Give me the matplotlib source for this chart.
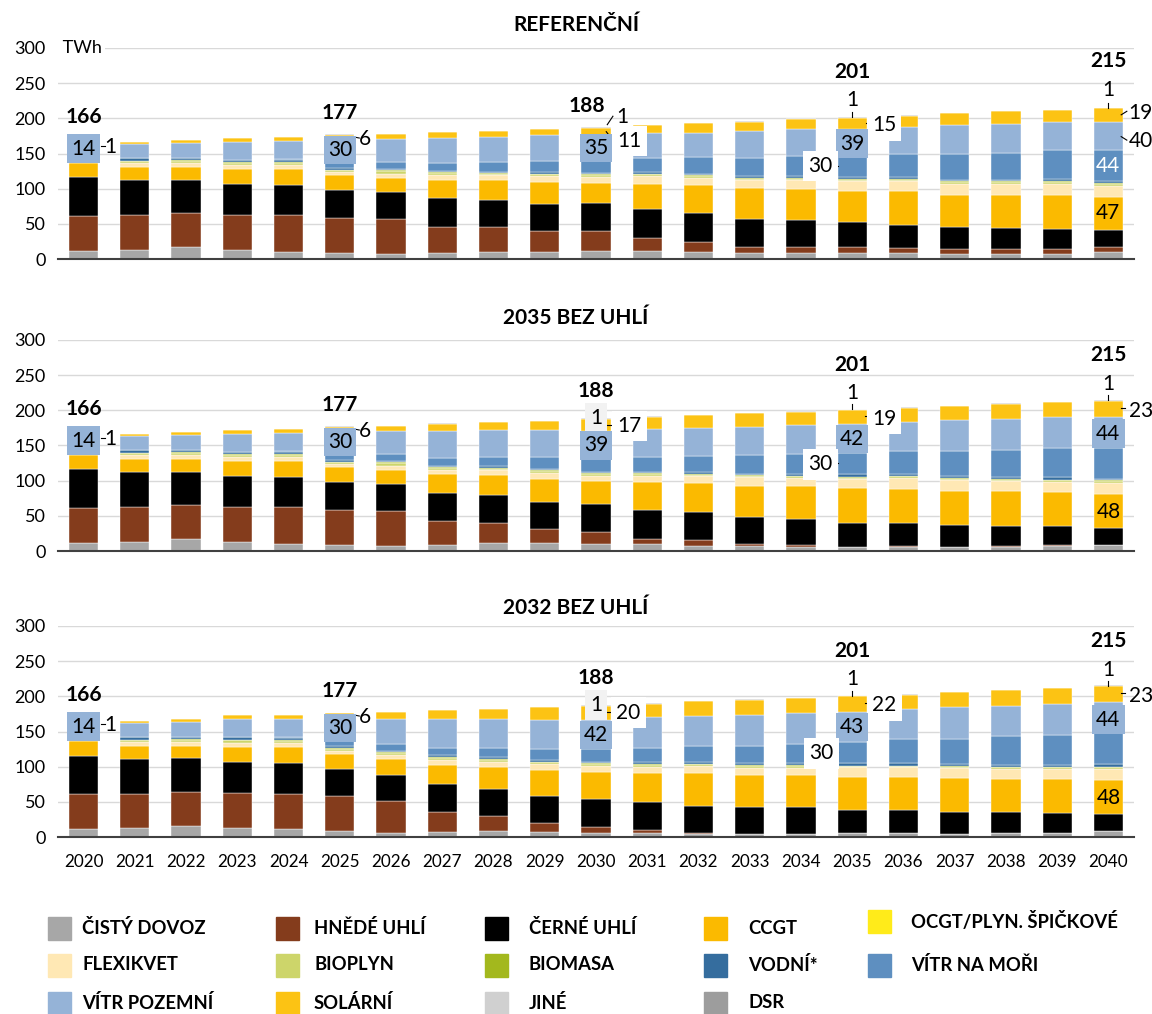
import matplotlib
matplotlib.use('Agg')
import matplotlib.pyplot as plt
import matplotlib.transforms as mtransforms
from matplotlib.patches import Rectangle
import numpy as np

plt.rcParams['font.family'] = ['Lato', 'DejaVu Sans']

roky = [str(r) for r in range(2020, 2041)]

# --- REFERENČNÍ ---
ref_dovoz = [12, 13.3, 16.7, 12.9, 10.5, 8.6, 7, 8, 10.5, 10.5, 11.4, 11.4, 9.5, 8.6, 8, 8, 8, 6.7, 6.7, 6.7, 9.5]
ref_hnede = [48.5, 48.7, 48.1, 50, 51.4, 50, 50, 38, 34.3, 30, 28.6, 19.1, 14.3, 9, 9.6, 8.7, 7.7, 7.1, 7.6, 7.6, 7.2]
ref_cerne = [56.2, 51, 48.1, 43.8, 42.9, 39, 38, 40.7, 39.5, 37.1, 39.5, 40.5, 41.4, 39.1, 38.1, 35.3, 32.9, 31, 29.5, 28.6, 24.7]
ref_ccgt = [19.3, 18, 18.1, 20.9, 22.8, 21.4, 20, 26.3, 27.7, 31.9, 28.5, 35.7, 39.6, 44.3, 44.3, 44.5, 47.4, 46.6, 47.6, 48.5, 47]
ref_flexi = [6.5, 5, 5.7, 5.7, 6.2, 4.8, 6, 6, 7, 8.1, 8.7, 10.9, 10.9, 11, 12, 14.5, 14.5, 15.6, 15.3, 15.6, 14.9]
ref_bioplyn = [3, 3, 2.8, 3.3, 3.2, 2.3, 4, 3, 2.4, 2.8, 2.8, 2.8, 2.3, 2, 2, 2, 2.3, 2.5, 2.8, 3, 3.7]
ref_biomasa = [1.5, 1, 1, 1, 1, 1, 1, 1, 1, 1, 1, 1, 1, 1, 1, 1, 1, 1, 1, 1, 1]
ref_vodni = [3, 3, 2.8, 2.9, 2.5, 2.9, 2, 2, 1.9, 2.9, 2.4, 1.9, 2.4, 2.6, 2.6, 2.5, 2.2, 2.4, 2.4, 2.8, 2.5]
ref_more = [0.5, 0.8, 0.8, 0.8, 1, 11, 10, 12, 14.3, 15.2, 17.6, 20, 23.6, 25.7, 28.4, 30, 32.6, 35.7, 38.1, 41, 44]
ref_pozemni = [14, 20.2, 21.5, 25.4, 26.5, 30, 32.5, 35, 34.7, 36.2, 35, 35.3, 34.5, 39.1, 39, 39, 39.4, 41.9, 41.4, 39.5, 40.5]
ref_solar = [1, 2.5, 3.3, 5.2, 5.3, 6, 7.5, 8, 9.1, 9.1, 11, 11.4, 13.4, 12.8, 13.6, 15, 16, 16.5, 17.6, 17.7, 19]

# --- 2035 BEZ UHLÍ ---
s35_dovoz = [12, 13.3, 16.7, 12.9, 10.5, 8.6, 7, 8.6, 11, 11, 10.5, 9.5, 7.6, 7, 6, 5, 5, 5, 6, 7.6, 8.6]
s35_hnede = [48.5, 48.7, 48.1, 50, 51.4, 50, 50, 34.3, 29, 20.9, 16.5, 8.1, 8.1, 3.5, 2.6, 1, 2, 1, 1.6, 1, 0.3]
s35_cerne = [56.2, 51, 48.1, 43.8, 42.9, 39, 38, 39.5, 39.5, 37.1, 39.7, 41, 39.1, 37.5, 37.4, 34.5, 32.5, 31, 28.4, 27.1, 24.4]
s35_ccgt = [19.3, 18, 18.1, 20.9, 22.8, 21.4, 20, 26.6, 28.5, 33.9, 32.3, 39.4, 41.9, 44.9, 46, 49, 48.5, 49, 48.8, 47.6, 48]
s35_flexi = [6.5, 5, 5.7, 5.7, 6.2, 4.8, 6, 6.7, 6.8, 8.1, 8, 9, 9.3, 11.9, 11.8, 13, 16, 14.5, 14.2, 14.7, 15.5]
s35_bioplyn = [3, 3, 2.8, 3.3, 3.2, 2.3, 4, 2.3, 2.2, 3, 3, 3, 2.5, 2.2, 2.2, 2, 2, 2.3, 2.4, 2.4, 2.5]
s35_biomasa = [1.5, 1, 1, 1, 1, 1, 1, 1, 1, 1, 1, 1, 1, 1, 1, 1, 1, 1, 1, 1, 1]
s35_vodni = [3, 3, 2.8, 2.9, 2.5, 2.9, 2, 2.4, 2.5, 2, 1.9, 2, 2.9, 1.5, 2.5, 3.5, 2.5, 2.2, 3.3, 3.4, 2.5]
s35_more = [0.5, 0.8, 0.8, 0.8, 1, 11, 10, 11, 12.8, 16.3, 18.5, 20, 22.4, 26.5, 28.5, 30, 32.5, 36, 38.6, 41.2, 44]
s35_pozemni = [14, 20.2, 21.5, 25.4, 26.5, 30, 32.5, 38.1, 38.1, 38.1, 39, 40.8, 39.5, 40.7, 41, 42, 41.3, 44, 43.7, 44.5, 44]
s35_solar = [1, 2.5, 3.3, 5.2, 5.3, 6, 7.5, 10.5, 11.6, 13.4, 17, 17.2, 19, 19, 19, 19, 20.5, 20, 21.5, 21.5, 23]

# --- 2032 BEZ UHLÍ ---
s32_dovoz = [11, 12.9, 15.2, 12.9, 11, 8.6, 5.7, 7, 8, 7, 5.7, 5.7, 4.8, 4.8, 4.8, 5.7, 5.7, 4.8, 5.7, 6.2, 8]
s32_hnede = [49.5, 47.6, 48.1, 49, 49.5, 49, 44.8, 28.2, 21.5, 13, 8.6, 3.8, 0.3, 0, 0, 0, 0.3, 0, 0.5, 0, 0.5]
s32_cerne = [55.2, 50.9, 49.1, 44.8, 44.3, 39.1, 37.5, 40.5, 39.1, 38, 39.5, 40.5, 39.5, 38.1, 37.6, 33.3, 32, 31.4, 29, 28.1, 24.5]
s32_ccgt = [20.3, 18.1, 17.1, 21.9, 22.8, 21.3, 22.5, 27.2, 31.4, 37.2, 39.1, 41.4, 46.2, 45.7, 45.6, 46, 47.7, 48.1, 47.7, 48.6, 48]
s32_flexi = [6.5, 5, 5.7, 5.7, 6.2, 4.8, 6.2, 6.6, 7, 8.1, 8.1, 8.6, 9.5, 10, 10.6, 14, 13.3, 13.3, 13.8, 13.8, 15]
s32_bioplyn = [3, 3, 2.8, 3.3, 3.2, 2.3, 2.8, 3.3, 3, 2.7, 2.8, 2.8, 2.8, 2.3, 2.3, 1.4, 1.4, 2.4, 2.3, 2.3, 3]
s32_biomasa = [1.5, 1, 1, 1, 1, 1, 1, 1, 1, 1, 1, 1, 1, 1, 1, 1, 1, 1, 1, 1, 1]
s32_vodni = [3, 3, 2.8, 2.9, 2.5, 2.9, 2.4, 2.4, 2.3, 2.5, 2.2, 2.9, 2.2, 2.9, 2.9, 3.4, 3.4, 2.3, 2.9, 2.9, 3.5]
s32_more = [0.5, 0.8, 0.8, 0.8, 1, 11, 9.5, 10.9, 12.9, 15.3, 17.8, 20.3, 22.6, 25.2, 27.6, 30, 34.2, 36.7, 40, 42.8, 44]
s32_pozemni = [14, 20.2, 21.5, 25.4, 26.5, 30, 35.2, 40, 40.9, 41.9, 42, 43, 42.8, 42.9, 43.8, 43, 43, 44.8, 43.8, 43.8, 44]
s32_solar = [1, 2.5, 3.3, 5.2, 5.3, 6, 10, 12.9, 14.9, 17.6, 20, 19.5, 21.5, 22.3, 21.4, 22, 20.4, 21.2, 21.9, 21.9, 23]

jine = [0.5, 0.2, 0.2, 0.2, 0.2, 0.3, 0.3, 0.3, 0.3, 0.3, 1, 0.5, 0.5, 0.5, 0.6, 1, 0.5, 0.5, 0.5, 0.5, 1]

nazvy = ['ČISTÝ DOVOZ', 'HNĚDÉ UHLÍ', 'ČERNÉ UHLÍ', 'CCGT', 'OCGT/PLYN. ŠPIČKOVÉ',
         'FLEXIKVET', 'BIOPLYN', 'BIOMASA', 'VODNÍ*', 'VÍTR NA MOŘI',
         'VÍTR POZEMNÍ', 'SOLÁRNÍ', 'JINÉ', 'DSR']
barvy = {'ČISTÝ DOVOZ': '#A7A7A7', 'HNĚDÉ UHLÍ': '#843C1C', 'ČERNÉ UHLÍ': '#000000',
         'CCGT': '#FBBA00', 'OCGT/PLYN. ŠPIČKOVÉ': '#FFEB1A', 'FLEXIKVET': '#FFE8B4',
         'BIOPLYN': '#CDD56A', 'BIOMASA': '#A3B81D', 'VODNÍ*': '#356D9E',
         'VÍTR NA MOŘI': '#5E8FC0', 'VÍTR POZEMNÍ': '#95B3D7', 'SOLÁRNÍ': '#FCC314',
         'JINÉ': '#D0D0D0', 'DSR': '#9D9D9D'}

poradi = ['ČISTÝ DOVOZ', 'HNĚDÉ UHLÍ', 'ČERNÉ UHLÍ', 'CCGT', 'FLEXIKVET', 'BIOPLYN',
          'BIOMASA', 'VODNÍ*', 'VÍTR NA MOŘI', 'VÍTR POZEMNÍ', 'SOLÁRNÍ', 'JINÉ']

scenare = [
    ('REFERENČNÍ', [ref_dovoz, ref_hnede, ref_cerne, ref_ccgt, ref_flexi, ref_bioplyn,
                    ref_biomasa, ref_vodni, ref_more, ref_pozemni, ref_solar, jine]),
    ('2035 BEZ UHLÍ', [s35_dovoz, s35_hnede, s35_cerne, s35_ccgt, s35_flexi, s35_bioplyn,
                       s35_biomasa, s35_vodni, s35_more, s35_pozemni, s35_solar, jine]),
    ('2032 BEZ UHLÍ', [s32_dovoz, s32_hnede, s32_cerne, s32_ccgt, s32_flexi, s32_bioplyn,
                       s32_biomasa, s32_vodni, s32_more, s32_pozemni, s32_solar, jine]),
]

# popisky: (text, x, y, styl, vodici cara)
spolecne = [('166', 0, 202, 'total', None), ('14', 0, 157, 'lblue', None),
            ('1', 0.53, 159, 'plain', ((0.34, 160), (0.41, 160))),
            ('177', 5, 208, 'total', None), ('30', 5, 155, 'lblue', None),
            ('6', 5.5, 170, 'plain', ((5.31, 173), (5.38, 172)))]
popisky = [
    spolecne + [
        ('188', 9.82, 217, 'total', None), ('35', 10, 158, 'lblue', None),
        ('1', 10.52, 202, 'plain', ((10.22, 191), (10.33, 203))),
        ('11', 10.65, 168, 'white', ((10.2, 181), (10.32, 170))),
        ('201', 15, 266, 'total', None), ('1', 15, 226, 'plain', ((15, 202), (15, 209))),
        ('15', 15.62, 190, 'white', ((15.27, 194), (15.35, 194))),
        ('39', 15, 164, 'lblue', None),
        ('30', 14.38, 132, 'white', ((14.66, 132), (14.72, 132))),
        ('215', 20, 281, 'total', None), ('1', 20, 240, 'plain', ((20, 215), (20, 222))),
        ('19', 20.63, 208, 'plain', ((20.25, 205), (20.36, 210))),
        ('40', 20.63, 168, 'plain', ((20.25, 174), (20.36, 169))),
        ('44', 20, 132, 'inwhite', None), ('47', 20, 65, 'in', None)],
    spolecne + [
        ('188', 10, 227, 'total', None), ('1', 10, 188.5, 'gray', None),
        ('17', 10.65, 178, 'white', ((10.22, 179), (10.32, 179))),
        ('39', 10, 150, 'lblue', None),
        ('201', 15, 265, 'total', None), ('1', 15, 224, 'plain', ((15, 202), (15, 209))),
        ('19', 15.62, 188, 'white', ((15.25, 192), (15.33, 192))),
        ('42', 15, 159, 'lblue', None),
        ('30', 14.38, 123, 'white', ((14.66, 125), (14.72, 125))),
        ('215', 20, 279, 'total', None), ('1', 20, 238, 'plain', ((20, 215), (20, 222))),
        ('23', 20.63, 199, 'plain', ((20.25, 203), (20.33, 203))),
        ('44', 20, 167, 'lblue', None), ('48', 20, 56, 'in', None)],
    spolecne + [
        ('188', 10, 226, 'total', None), ('1', 10, 188, 'gray', None),
        ('20', 10.63, 177, 'white', ((10.22, 178), (10.32, 178))),
        ('42', 10, 145, 'lblue', None),
        ('201', 15, 264, 'total', None), ('1', 15, 224, 'plain', ((15, 201), (15, 208))),
        ('22', 15.63, 187, 'white', ((15.25, 190.5), (15.33, 190.5))),
        ('43', 15, 156, 'lblue', None),
        ('30', 14.4, 119, 'white', ((14.66, 121), (14.72, 121))),
        ('215', 20, 278, 'total', None), ('1', 20, 237, 'plain', ((20, 215), (20, 222))),
        ('23', 20.63, 201, 'plain', ((20.25, 205), (20.33, 205))),
        ('44', 20, 167, 'lblue', None), ('48', 20, 55, 'in', None)],
]

fig = plt.figure(figsize=(11.52, 10.14), dpi=100)
H = 1014.0
W = 1152.0
x0, x1 = 58 / W, 1134 / W
panely = [(48, 259, 25), (340, 551, 318), (626, 837, 608)]

x = np.arange(len(roky))
for i, ((nazev, data), (ytop, ybot, ytit)) in enumerate(zip(scenare, panely)):
    ax = fig.add_axes([x0, 1 - ybot / H, x1 - x0, (ybot - ytop) / H])
    spodek = np.zeros(len(roky))
    for jmeno, hodnoty in zip(poradi, data):
        hodnoty = np.array(hodnoty, dtype=float)
        ax.bar(x, hodnoty, bottom=spodek, width=0.57, color=barvy[jmeno],
               edgecolor='white', linewidth=0.3, zorder=2)
        spodek += hodnoty
    ax.set_xlim(-0.5, len(roky) - 0.5)
    ax.set_ylim(0, 300)
    ax.set_yticks(range(0, 301, 50))
    ax.grid(axis='y', color='#D9D9D9', linewidth=1)
    ax.set_axisbelow(True)
    for s in ['top', 'right', 'left']:
        ax.spines[s].set_visible(False)
    ax.spines['bottom'].set_color('#404040')
    ax.spines['bottom'].set_linewidth(1.5)
    ax.spines['bottom'].set_zorder(3)
    ax.tick_params(axis='y', length=0, labelsize=13, pad=9)
    ax.set_xticks(x)
    if i == 2:
        ax.set_xticklabels(roky)
        ax.tick_params(axis='x', length=0, labelsize=12.3, pad=12)
    else:
        ax.set_xticklabels([])
        ax.tick_params(axis='x', length=0)
    if i == 0:
        tr = mtransforms.blended_transform_factory(ax.transAxes, ax.transData)
        ax.text(0.0, 300, ' TWh', transform=tr, ha='left', va='center', fontsize=13,
                bbox=dict(boxstyle='square,pad=0.15', fc='white', ec='none'), zorder=4)
    fig.text(0.5, 1 - ytit / H, nazev, ha='center', va='center', fontsize=15,
             fontweight='bold')

    for txt, px, py, styl, cara in popisky[i]:
        if cara is not None:
            ax.plot([cara[0][0], cara[1][0]], [cara[0][1], cara[1][1]], color='black',
                    lw=0.8, zorder=6, clip_on=False)
        kw = dict(ha='center', va='center', fontsize=15, zorder=7, clip_on=False)
        if styl == 'total':
            ax.text(px, py, txt, fontweight='bold', **kw)
        elif styl == 'lblue':
            ax.text(px, py, txt, bbox=dict(boxstyle='square,pad=0.2', fc=barvy['VÍTR POZEMNÍ'],
                                           ec='none'), **kw)
        elif styl == 'white':
            ax.text(px, py, txt, bbox=dict(boxstyle='square,pad=0.25', fc='white',
                                           ec='none'), **kw)
        elif styl == 'gray':
            ax.text(px, py, txt, bbox=dict(boxstyle='square,pad=0.25', fc='#F2F2F2',
                                           ec='none'), **kw)
        elif styl == 'inwhite':
            ax.text(px, py, txt, color='white', **kw)
        else:
            ax.text(px, py, txt, **kw)

# legenda
leg_x = [48, 276, 485, 704, 868]
txt_x = [82, 314, 529, 748, 911]
leg_y = [928.5, 965, 1003]
for k, jmeno in enumerate(nazvy):
    r, c = divmod(k, 5)
    yc = leg_y[r] - (7 if (r == 0 and c == 4) else 0)
    fig.patches.append(Rectangle((leg_x[c] / W, 1 - (yc + 11.5) / H), 23 / W, 23 / H,
                                 transform=fig.transFigure, color=barvy[jmeno]))
    fig.text(txt_x[c] / W, 1 - yc / H, jmeno, ha='left', va='center', fontsize=13.3,
             fontweight='bold')

fig.savefig('out.png', dpi=100)
